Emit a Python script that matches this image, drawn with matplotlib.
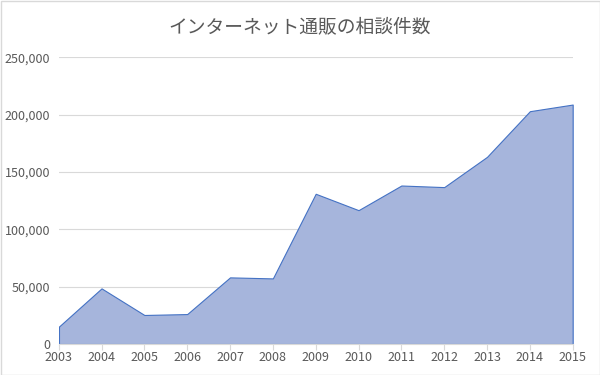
import matplotlib
matplotlib.use("Agg")
import matplotlib.pyplot as plt
from matplotlib.ticker import FuncFormatter
from matplotlib.patches import Rectangle

plt.rcParams['font.family'] = ['Noto Sans CJK JP', 'DejaVu Sans']

title = "インターネット通販の相談件数"
years = [2003, 2004, 2005, 2006, 2007, 2008, 2009, 2010, 2011, 2012, 2013, 2014, 2015]
counts = [15000, 48500, 25300, 26100, 58100, 57200, 131000, 116700, 138200, 136800, 163200, 203000, 208800]
y_ticks = [0, 50000, 100000, 150000, 200000, 250000]

fig = plt.figure(figsize=(6, 3.75), dpi=100)
ax = fig.add_axes([58.7/600, (375-344)/375, (572.7-58.7)/600, (344-57.3)/375])

ax.fill_between(years, counts, 0, facecolor='#A6B5DC', edgecolor='#4472C4', linewidth=0.8, zorder=3)
ax.plot([years[0], years[0]], [0, counts[0]], color='#4472C4', lw=0.8, zorder=4)
ax.plot([years[-1], years[-1]], [0, counts[-1]], color='#4472C4', lw=0.8, zorder=4)

ax.set_xlim(years[0], years[-1])
ax.set_ylim(0, 250000)
ax.set_yticks(y_ticks)
ax.yaxis.set_major_formatter(FuncFormatter(lambda v, p: f"{int(v):,}"))
ax.set_xticks(years)
ax.set_xticklabels([str(y) for y in years])
ax.grid(axis='y', color='#D9D9D9', linewidth=0.8, zorder=0)
for s in ['top', 'right', 'left']:
    ax.spines[s].set_visible(False)
ax.spines['bottom'].set_color('#D9D9D9')
ax.spines['bottom'].set_zorder(5)
ax.tick_params(axis='y', length=0, labelsize=9, labelcolor='#595959', pad=6)
ax.tick_params(axis='x', length=4, color='#D9D9D9', labelsize=9, labelcolor='#595959', pad=1)

fig.text(0.5, 1 - 27/375, title, ha='center', va='center', fontsize=13.5, color='#595959')

fig.patches.append(Rectangle((0.5/600, 0.5/375), 1 - 1/600, 1 - 1/375, transform=fig.transFigure,
                             fill=False, edgecolor='#D9D9D9', linewidth=1))

fig.savefig('out.png', dpi=100)
